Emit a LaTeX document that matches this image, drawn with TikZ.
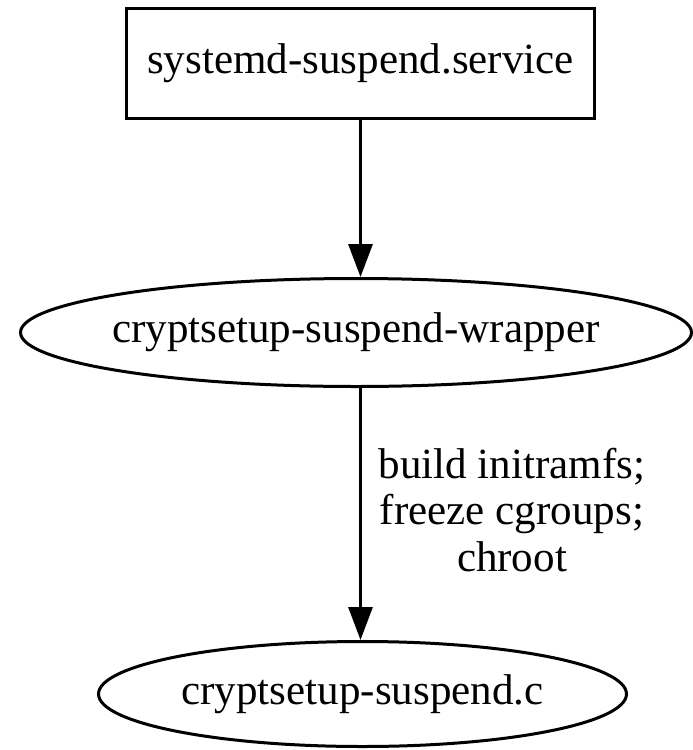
\documentclass[tikz,border=0pt]{standalone}
\usepackage{fontspec}
\setmainfont{Liberation Serif}
\usetikzlibrary{shapes.geometric,arrows.meta}
\begin{document}
\begin{tikzpicture}[
  every node/.style={font=\fontsize{24.5}{26.5}\selectfont},
  unit/.style={draw, line width=0.06cm, inner sep=0pt},
  prog/.style={draw, ellipse, line width=0.06cm, inner xsep=-1cm, inner ysep=0pt},
  flow/.style={-{Triangle[length=0.66cm,width=0.48cm]}, line width=0.06cm}
]
  \useasboundingbox (0,0) rectangle (13.86,-15);
  \node (service)  at (7.21,-1.27)  [unit, minimum width=9.36cm, minimum height=2.2cm] {systemd-suspend.service};
  \node (wrapper)  at (7.12,-6.65)  [prog, minimum width=13.42cm, minimum height=2.16cm] {cryptsetup-suspend-wrapper};
  \node (suspend_c) at (7.25,-13.88) [prog, minimum width=10.56cm, minimum height=2.1cm] {cryptsetup-suspend.c};
  \node (steps) at (10.24,-10.2) [align=center] {build initramfs;\\ freeze cgroups;\\ chroot};
  \draw[flow] (service.south) -- (service.south |- wrapper.north);
  \draw[flow] (service.south |- wrapper.south) -- (service.south |- suspend_c.north);
\end{tikzpicture}
\end{document}
